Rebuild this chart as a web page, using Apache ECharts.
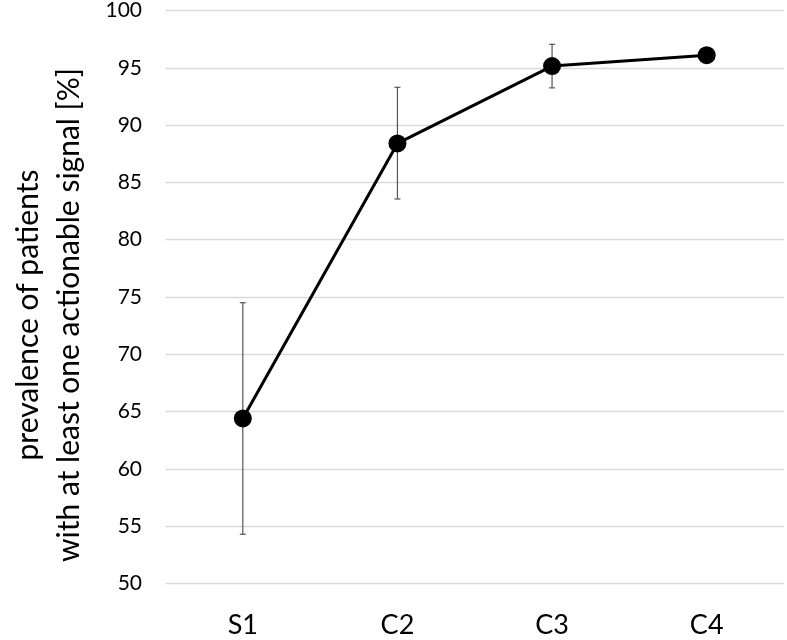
<!DOCTYPE html>
<html>
<head>
<meta charset="utf-8">
<script src="https://cdn.jsdelivr.net/npm/echarts@6/dist/echarts.min.js"></script>
<style>
html,body{margin:0;padding:0;background:#fff;}
#chart{width:787px;height:640px;}
</style>
</head>
<body>
<div id="chart"></div>
<script>
const categories = ["S1", "C2", "C3", "C4"];
const prevalence = [64.4, 88.4, 95.15, 96.1];
const errLow = [54.3, 83.55, 93.25, 96.1];
const errHigh = [74.5, 93.3, 97.05, 96.1];
const yTicks = [50, 55, 60, 65, 70, 75, 80, 85, 90, 95, 100];

const FONT = "Lato, 'Open Sans', sans-serif";
const chart = echarts.init(document.getElementById('chart'));

const errData = categories.map((c, i) => [i, errLow[i], errHigh[i]]);

chart.setOption({
  animation: false,
  grid: { left: 153.5, right: 3, top: 10, bottom: 56.5, containLabel: false },
  xAxis: {
    type: 'category',
    data: categories,
    boundaryGap: true,
    axisLine: { show: false },
    axisTick: { show: false },
    axisLabel: { color: '#000', fontSize: 27, fontFamily: FONT, margin: 28 }
  },
  yAxis: {
    type: 'value',
    min: yTicks[0],
    max: yTicks[yTicks.length - 1],
    interval: 5,
    axisLine: { show: false },
    axisTick: { show: false },
    axisLabel: { color: '#000', fontSize: 21, fontFamily: FONT, margin: 23.5 },
    splitLine: { lineStyle: { color: '#d9d9d9', width: 1.3 } },
    name: 'prevalence of patients\nwith at least one actionable signal [%]',
    nameLocation: 'middle',
    nameGap: 75.5,
    nameRotate: 90,
    nameTextStyle: { color: '#000', fontSize: 30, fontFamily: FONT, lineHeight: 41, padding: [0, 36, 0, 0] }
  },
  series: [
    {
      type: 'custom',
      z: 1,
      data: errData,
      renderItem: function (params, api) {
        const x = api.value(0);
        const lo = api.coord([x, api.value(1)]);
        const hi = api.coord([x, api.value(2)]);
        const w = 3;
        if (Math.abs(hi[1] - lo[1]) < 1) return { type: 'group', children: [] };
        const st = { stroke: '#555', lineWidth: 1.2 };
        return {
          type: 'group',
          children: [
            { type: 'line', shape: { x1: lo[0], y1: lo[1], x2: hi[0], y2: hi[1] }, style: st },
            { type: 'line', shape: { x1: lo[0] - w, y1: lo[1], x2: lo[0] + w, y2: lo[1] }, style: st },
            { type: 'line', shape: { x1: hi[0] - w, y1: hi[1], x2: hi[0] + w, y2: hi[1] }, style: st }
          ]
        };
      }
    },
    {
      type: 'line',
      z: 2,
      data: prevalence,
      symbol: 'circle',
      symbolSize: 18,
      lineStyle: { color: '#000', width: 3 },
      itemStyle: { color: '#000' }
    }
  ]
});
</script>
</body>
</html>
